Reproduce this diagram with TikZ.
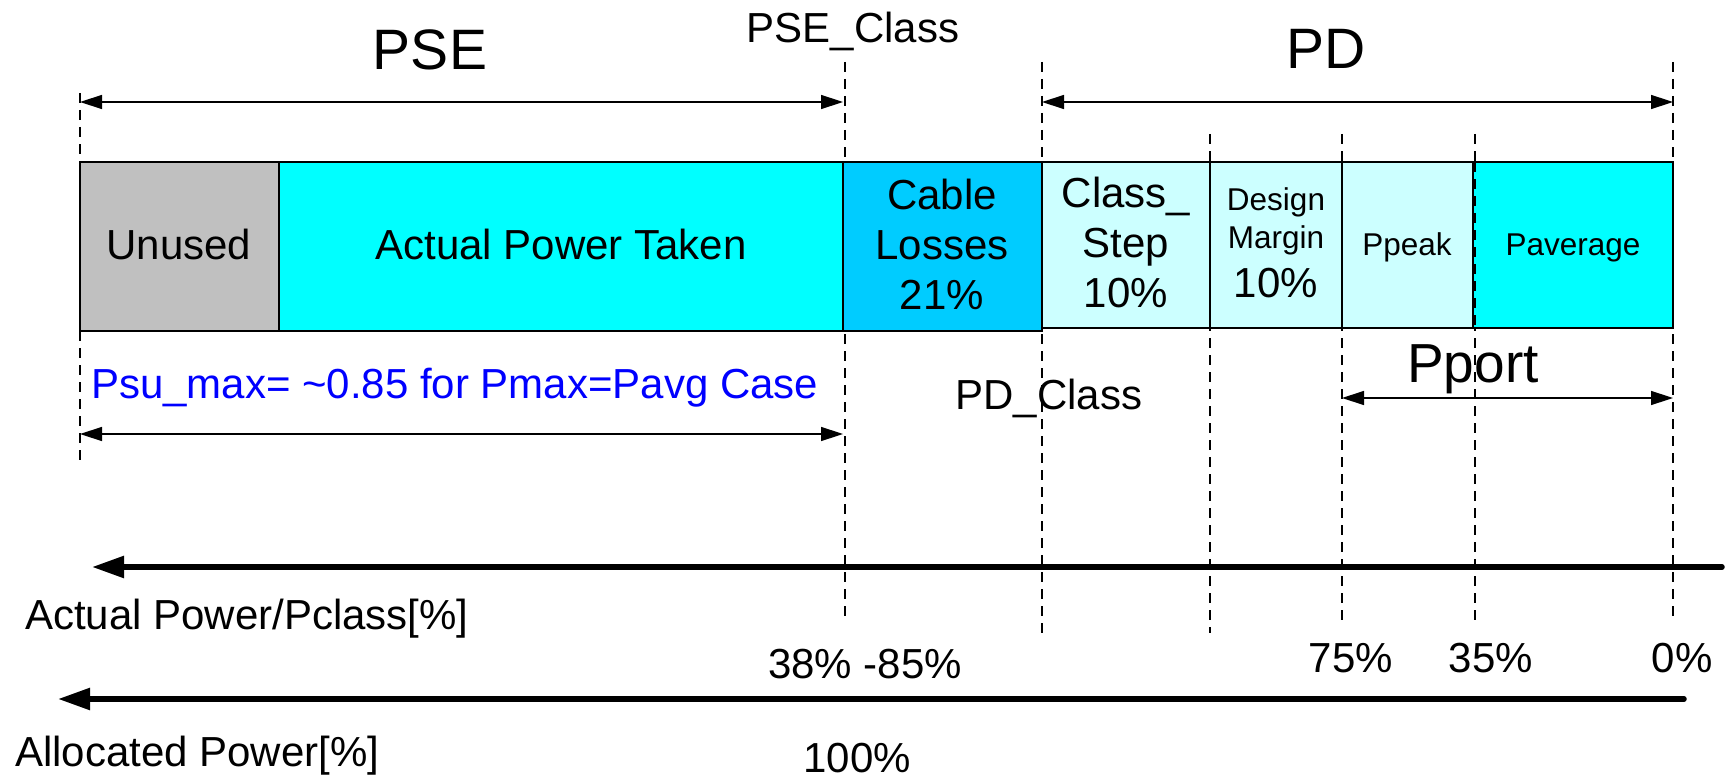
\documentclass[tikz,border=0pt]{standalone}
\usepackage{fontspec}
\setmainfont{Liberation Sans}
\usetikzlibrary{arrows.meta}

\definecolor{unusedgray}{HTML}{C0C0C0}
\definecolor{powercyan}{HTML}{00FFFF}
\definecolor{cableblue}{HTML}{00CCFF}
\definecolor{palecyan}{HTML}{CCFFFF}
\definecolor{notebl}{HTML}{0000FF}

\tikzset{
  cellbox/.style={draw=black, line width=1.5pt},
  guide/.style={draw=black, line width=1.3pt, dash pattern=on 10pt off 7pt},
  dimarrow/.style={draw=black, line width=1.4pt,
    {Triangle[length=22pt,width=14pt]}-{Triangle[length=22pt,width=14pt]}},
  axisarrow/.style={draw=black, line width=5.5pt, line cap=round,
    -{Triangle[length=32pt,width=21pt]}},
  lbl/.style={anchor=base, inner sep=0pt, outer sep=0pt},
  big/.style={lbl, font=\fontsize{57}{68}\selectfont},
  mid/.style={lbl, font=\fontsize{42}{50}\selectfont},
  small/.style={lbl, font=\fontsize{31.5}{38}\selectfont},
}

\begin{document}
\begin{tikzpicture}[x=1pt, y=-1pt]
\useasboundingbox (0,0) rectangle (1726,781);

% vertical dashed guide lines (behind the bar)
\draw[guide] (80,93) -- (80,462);
\draw[guide] (845,62) -- (845,620);
\draw[guide] (1042,62) -- (1042,633);
\draw[guide] (1210,134) -- (1210,633);
\draw[guide] (1342,134) -- (1342,627);
\draw[guide] (1475,134) -- (1475,627);
\draw[guide] (1673,62) -- (1673,620);

% the power bar
\draw[cellbox, fill=unusedgray] (80,162) rectangle (279,331);
\draw[cellbox, fill=powercyan] (279,162) rectangle (843,331);
\draw[cellbox, fill=cableblue] (843,162) rectangle (1042,331);
\draw[cellbox, fill=palecyan] (1042,162) rectangle (1210,328);
\draw[cellbox, fill=palecyan] (1210,162) rectangle (1342,328);
\draw[cellbox, fill=palecyan] (1342,162) rectangle (1473,328);
\draw[cellbox, fill=powercyan] (1473,162) rectangle (1673,328);
\draw[guide] (1475,162) -- (1475,328);

% cell texts
\node[mid] (unused) at (179,259) {Unused};
\node[mid] (taken) at (561,259) {Actual Power Taken};
\node[mid] (cableA) at (942,209) {Cable};
\node[mid] (cableB) at (942,259) {Losses};
\node[mid] (cableC) at (942,309) {21\%};
\node[mid] (stepA) at (1126,207) {Class\_};
\node[mid] (stepB) at (1126,257) {Step};
\node[mid] (stepC) at (1126,307) {10\%};
\node[small] (marginA) at (1276,210) {Design};
\node[small] (marginB) at (1276,248) {Margin};
\node[mid] (marginC) at (1276,297) {10\%};
\node[small] (ppeak) at (1407,255) {Ppeak};
\node[small] (pavg) at (1573,255) {Paverage};

% headings
\node[big] (pse) at (430,70) {PSE};
\node[big] (pd) at (1326,69) {PD};
\node[mid] (pseclass) at (853,43) {PSE\_Class};
\node[mid] (pdclass) at (1049,409) {PD\_Class};
\node[lbl, font=\fontsize{55}{66}\selectfont] (pport) at (1473,382) {Pport};
\node[mid, anchor=base west, text=notebl] (psu) at (91,398) {Psu\_max= \textasciitilde0.85 for Pmax=Pavg Case};

% dimension arrows
\coordinate (pseL) at (80,102);
\coordinate (pseR) at (843,102);
\coordinate (pdL) at (1042,102);
\coordinate (pdR) at (1673,102);
\coordinate (psuL) at (80,434);
\coordinate (psuR) at (843,434);
\coordinate (portL) at (1342,398);
\coordinate (portR) at (1673,398);
\draw[dimarrow] (pseL) -- (pseR);
\draw[dimarrow] (pdL) -- (pdR);
\draw[dimarrow] (psuL) -- (psuR);
\draw[dimarrow] (portL) -- (portR);

% axes
\coordinate (actS) at (1722,567);
\coordinate (actE) at (92,567);
\coordinate (allS) at (1684,699);
\coordinate (allE) at (58,699);
\draw[axisarrow] (actS) -- (actE);
\draw[axisarrow] (allS) -- (allE);

\node[mid, anchor=base west] (actlbl) at (25,629) {Actual Power/Pclass[\%]};
\node[mid, anchor=base west] (alllbl) at (15,766) {Allocated Power[\%]};

% axis values
\node[mid, anchor=base west] (v38) at (768,678) {38\% -85\%};
\node[mid] (v75) at (1351,672) {75\%};
\node[mid] (v35) at (1491,672) {35\%};
\node[mid] (v0) at (1682,672) {0\%};
\node[mid] (v100) at (857,772) {100\%};
\end{tikzpicture}
\end{document}
